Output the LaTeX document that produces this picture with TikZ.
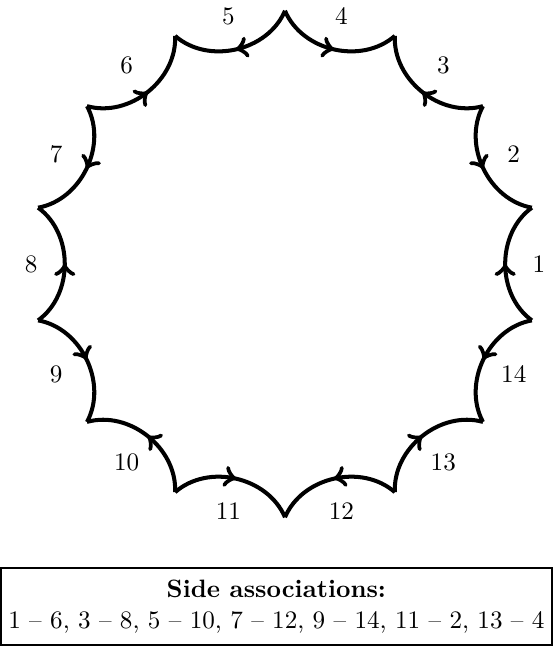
\documentclass[tikz,border=0pt]{standalone}
\usetikzlibrary{decorations.markings}

\begin{document}
\begin{tikzpicture}[every node/.style={align=center},
  side/.style={line width=1.6pt, postaction={decorate},
    decoration={markings, mark=at position 0.5 with {\arrow[scale=1.15]{>}}}},
  assoc/.style={draw, line width=0.8pt, minimum width=7.7cm, minimum height=1.08cm, inner sep=0pt}]
  \useasboundingbox (-3.984,-5.34) rectangle (3.747,3.691);
  % corners and side numbers
  \foreach \k in {0,...,14}
    \coordinate (v\k) at ({(\k-0.5)*360/14}:3.54);
  \foreach \k in {1,...,14}
    \node (s\k) at ({(\k-1)*360/14}:3.55) {\k};
  % odd sides run anticlockwise, even ones clockwise
  \foreach \k in {1,3,...,13}{
    \pgfmathtruncatemacro{\j}{\k-1}
    \draw[side] (v\j) to[bend left=54] (v\k);
  }
  \foreach \k in {2,4,...,14}{
    \pgfmathtruncatemacro{\j}{\k-1}
    \draw[side] (v\k) to[bend right=54] (v\j);
  }
  \node[assoc] (pairs) at (-0.12,-4.79) {\textbf{Side associations:}\\1 -- 6, 3 -- 8, 5 -- 10, 7 -- 12, 9 -- 14, 11 -- 2, 13 -- 4};
\end{tikzpicture}
\end{document}
